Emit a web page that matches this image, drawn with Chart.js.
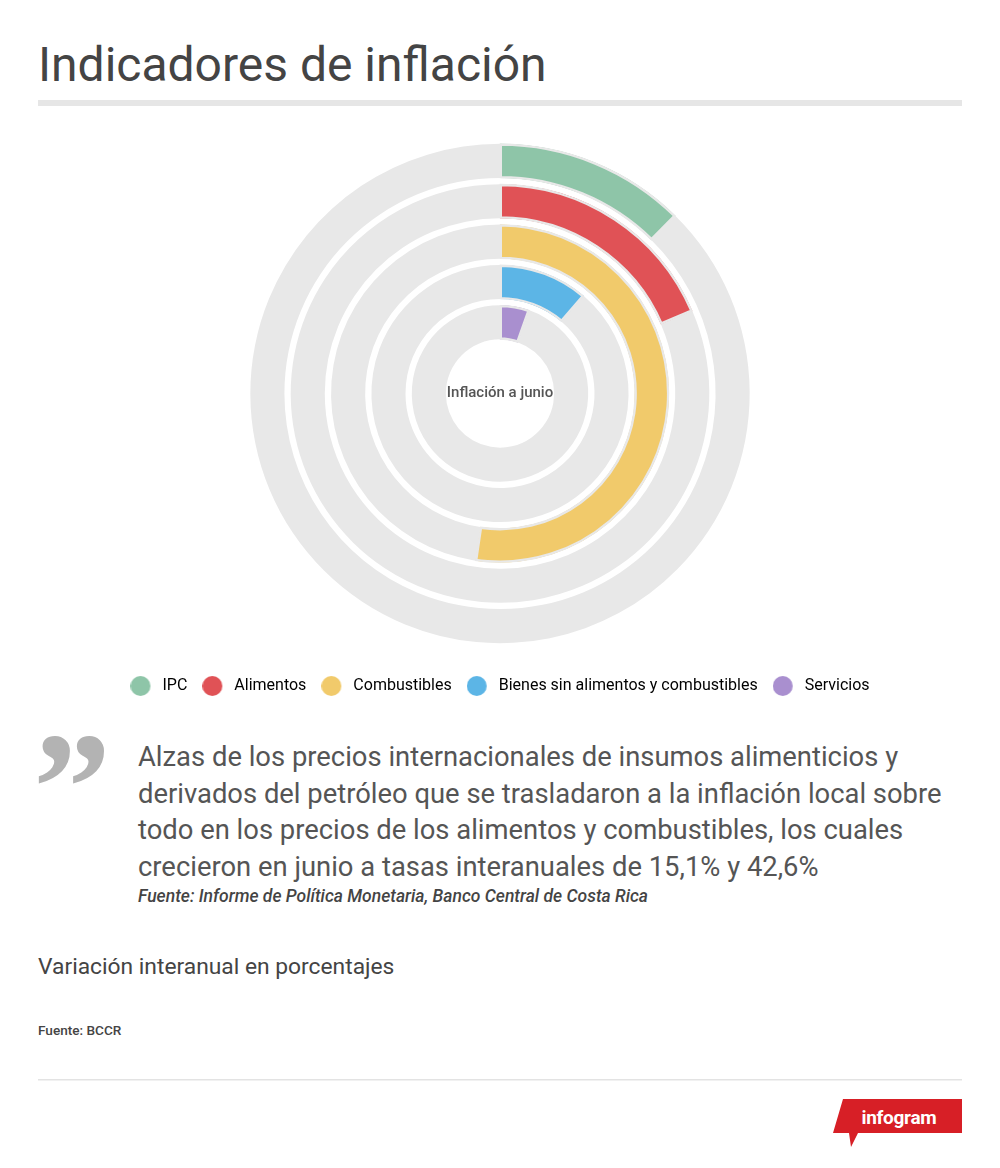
<!DOCTYPE html>
<html lang="es">
<head>
<meta charset="UTF-8">
<title>Indicadores de inflación</title>
<script src="https://cdn.jsdelivr.net/npm/chart.js"></script>
<style>
  html, body { margin: 0; padding: 0; background: #fff; }
  body { width: 1000px; height: 1168px; position: relative; overflow: hidden; font-family: Roboto, "Noto Sans", sans-serif; }
  #wrap { position: absolute; left: 0; top: 124px; width: 1000px; height: 580px; }
  #deco { position: absolute; left: 0; top: 0; }
</style>
</head>
<body>
<svg id="deco" width="1000" height="1168" xmlns="http://www.w3.org/2000/svg" font-family="Roboto, 'Noto Sans', sans-serif">
  <text x="38" y="81" font-size="48" fill="#444">Indicadores de inflación</text>
  <rect x="38" y="100" width="924" height="6" fill="#e6e6e6"/>

  <text x="33" y="840" font-size="156" font-weight="700" font-family="'Liberation Serif', serif" fill="#b3b3b3">”</text>
  <text font-size="27.4" fill="#555">
    <tspan x="138" y="766">Alzas de los precios internacionales de insumos alimenticios y</tspan>
    <tspan x="138" y="802.5">derivados del petróleo que se trasladaron a la inflación local sobre</tspan>
    <tspan x="138" y="839">todo en los precios de los alimentos y combustibles, los cuales</tspan>
    <tspan x="138" y="875.5">crecieron en junio a tasas interanuales de 15,1% y 42,6%</tspan>
  </text>
  <text x="138" y="902" font-size="17.5" font-style="italic" font-weight="500" fill="#444">Fuente: Informe de Política Monetaria, Banco Central de Costa Rica</text>

  <text x="38" y="974" font-size="22.8" fill="#444">Variación interanual en porcentajes</text>
  <text x="38" y="1035" font-size="13.6" font-weight="500" fill="#444">Fuente: BCCR</text>

  <rect x="38" y="1079" width="924" height="1.5" fill="#e3e3e3"/>
  <polygon points="843,1099 962,1099 962,1133 858,1133 851,1147 849,1133 833,1133" fill="#d71f26"/>
  <text x="899" y="1124" font-size="19" font-weight="700" fill="#fff" text-anchor="middle" letter-spacing="-0.3">infogram</text>
</svg>

<div id="wrap"><canvas id="rings"></canvas></div>

<script>
// Variación interanual (%) a junio
const categories = ['IPC', 'Alimentos', 'Combustibles', 'Bienes sin alimentos y combustibles', 'Servicios'];
const values = [10.1, 15.1, 42.6, 9.2, 4.4];
const colors = ['#8ec5a8', '#e05256', '#f1ca6b', '#5cb5e6', '#a98fcf'];
const centerLabel = 'Inflación a junio';

const track = '#e8e8e8';
const total = values.reduce((a, b) => a + b, 0);

const datasets = [];
categories.forEach((name, i) => {
  if (i > 0) {
    // white gap between rings
    datasets.push({ label: '', spacer: true, data: [1], backgroundColor: 'rgba(0,0,0,0)', borderWidth: 0, weight: 5.5 });
  }
  datasets.push({
    label: name,
    data: [values[i], total - values[i]],
    backgroundColor: [colors[i], track],
    borderColor: track,
    borderWidth: [2, 0],
    hoverBorderWidth: [2, 0],
    borderAlign: 'inner',
    weight: 34
  });
});

// legend dot: 20px circle on a 24px wide tile, so the label sits a bit further away
function dot(color) {
  const c = document.createElement('canvas');
  c.width = 24;
  c.height = 20;
  const g = c.getContext('2d');
  g.fillStyle = color;
  g.beginPath();
  g.arc(10, 10, 10, 0, Math.PI * 2);
  g.fill();
  return c;
}

const centerText = {
  id: 'centerText',
  afterDraw(chart) {
    const { ctx, chartArea } = chart;
    ctx.save();
    ctx.font = '500 15px Roboto';
    ctx.fillStyle = '#555';
    ctx.textAlign = 'center';
    ctx.textBaseline = 'middle';
    ctx.fillText(centerLabel, (chartArea.left + chartArea.right) / 2, (chartArea.top + chartArea.bottom) / 2);
    ctx.restore();
  }
};

new Chart(document.getElementById('rings'), {
  type: 'doughnut',
  data: { labels: ['valor', 'resto'], datasets },
  options: {
    responsive: true,
    maintainAspectRatio: false,
    animation: false,
    events: [],
    radius: 250,
    cutout: 58,
    layout: { padding: 0 },
    plugins: {
      tooltip: { enabled: false },
      legend: {
        position: 'bottom',
        labels: {
          usePointStyle: true,
          pointStyleWidth: 24,
          boxHeight: 14,
          padding: 15,
          color: '#555',
          font: { family: 'Roboto', size: 16 },
          generateLabels(chart) {
            return chart.data.datasets
              .map((ds, i) => ({ ds, i }))
              .filter(o => !o.ds.spacer)
              .map(o => ({
                text: o.ds.label,
                fillStyle: o.ds.backgroundColor[0],
                strokeStyle: o.ds.backgroundColor[0],
                lineWidth: 0,
                pointStyle: dot(o.ds.backgroundColor[0]),
                hidden: false,
                datasetIndex: o.i
              }));
          }
        }
      }
    }
  },
  plugins: [centerText]
});
</script>
</body>
</html>
